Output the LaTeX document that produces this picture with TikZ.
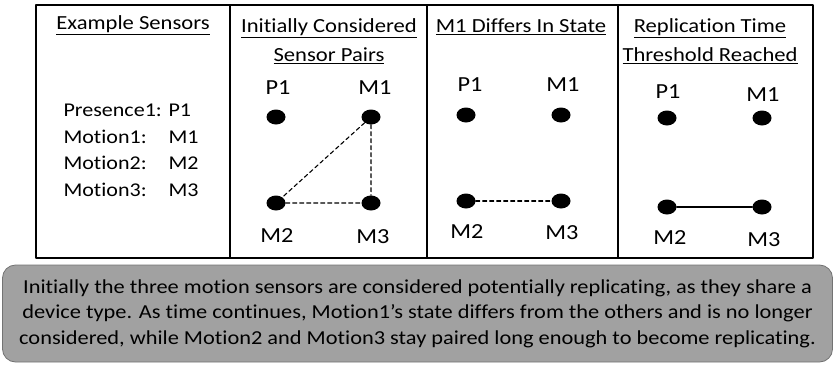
\documentclass[tikz,border=0pt]{standalone}
\usepackage{fontspec}
\setmainfont{Carlito}[FakeStretch=1.13,Ligatures=NoCommon]
\usetikzlibrary{positioning,shapes.geometric}
\tikzset{
	sensor/.style={ellipse,fill=black,inner sep=0pt,minimum width=19pt,minimum height=15pt},
	tag/.style={font=\fontsize{21.5}{24}\selectfont},
	entry/.style={anchor=west,font=\fontsize{19.5}{24}\selectfont},
	heading/.style={align=center,font=\fontsize{20}{28}\selectfont},
	pair/.style={line width=1.1pt,dash pattern=on 4pt off 3pt},
	replica/.style={line width=1.2pt},
	notebox/.style={draw=black!55,fill=black!37,rounded corners=13pt,line width=.8pt,
		minimum width=830pt,minimum height=97pt,align=center,font=\fontsize{19.8}{25.5}\selectfont}
}
\begin{document}
\begin{tikzpicture}[x=1pt,y=-1pt,font=\fontsize{20}{24}\selectfont,line join=round,line cap=round]
	\useasboundingbox (0,0) rectangle (834,364);
	\draw[line width=1.3pt] (36,5) rectangle (813,258);
	\draw[line width=1.3pt] (230,5)--(230,258) (427,5)--(427,258) (618,5)--(618,258);
	% panel 1
	\node[heading] (h1) at (133,25) {\underline{Example Sensors}};
	\node[entry] (n1) at (60,110) {Presence1:};
	\node[entry] (n2) at (60,137) {Motion1:};
	\node[entry] (n3) at (60,163) {Motion2:};
	\node[entry] (n4) at (60,190) {Motion3:};
	\node[entry] (v1) at (165,110) {P1};
	\node[entry] (v2) at (165,137) {M1};
	\node[entry] (v3) at (165,163) {M2};
	\node[entry] (v4) at (165,190) {M3};
	% panel 2
	\node[heading] (h2) at (329,41) {\underline{Initially Considered}\\[1pt]\underline{Sensor Pairs}};
	\node[sensor] (aP1) at (276,117) {};
	\node[sensor] (aM1) at (371,117) {};
	\node[sensor] (aM2) at (276,203) {};
	\node[sensor] (aM3) at (371,203) {};
	\node[tag] (laP1) at (278,88) {P1};
	\node[tag] (laM1) at (375,88) {M1};
	\node[tag] (laM2) at (277,236) {M2};
	\node[tag] (laM3) at (373,237) {M3};
	\draw[pair] (aM1)--(aM2) (aM1)--(aM3) (aM2)--(aM3);
	% panel 3
	\node[heading] (h3) at (521,27) {\underline{M1 Differs In State}};
	\node[sensor] (bP1) at (466,115) {};
	\node[sensor] (bM1) at (561,115) {};
	\node[sensor] (bM2) at (466,201) {};
	\node[sensor] (bM3) at (561,201) {};
	\node[tag] (lbP1) at (470,85) {P1};
	\node[tag] (lbM1) at (563,85) {M1};
	\node[tag] (lbM2) at (467,232) {M2};
	\node[tag] (lbM3) at (562,233) {M3};
	\draw[pair] (bM2)--(bM3);
	% panel 4
	\node[heading] (h4) at (710,41) {\underline{Replication Time}\\[1pt]\underline{Threshold Reached}};
	\node[sensor] (cP1) at (667,118) {};
	\node[sensor] (cM1) at (762,118) {};
	\node[sensor] (cM2) at (667,207) {};
	\node[sensor] (cM3) at (762,207) {};
	\node[tag] (lcP1) at (668,92) {P1};
	\node[tag] (lcM1) at (763,95) {M1};
	\node[tag] (lcM2) at (670,238) {M2};
	\node[tag] (lcM3) at (764,240) {M3};
	\draw[replica] (cM2)--(cM3);
	% note
	\node[notebox] (note) at (417.5,313.5) {Initially the three motion sensors are considered potentially replicating, as they share a\\device type. As time continues, Motion1’s state differs from the others and is no longer\\considered, while Motion2 and Motion3 stay paired long enough to become replicating.};
\end{tikzpicture}
\end{document}
